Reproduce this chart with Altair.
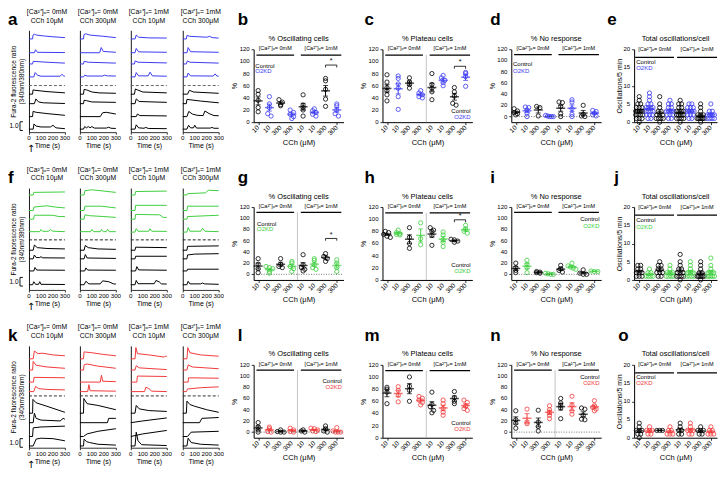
import altair as alt
import pandas as pd

FONT = "Liberation Sans"
BLUE, GREEN, RED = "#3b3bf4", "#3fcf3f", "#f23b3b"

# ---------------- text ----------------
COND_0 = "[Ca²⁺]ₒ= 0mM"
COND_1 = "[Ca²⁺]ₒ= 1mM"
TRACE_TITLES = [[COND_0, "CCh 10μM"], [COND_0, "CCh 300μM"],
                [COND_1, "CCh 10μM"], [COND_1, "CCh 300μM"]]
GROUP_HEADERS = [COND_0, COND_1]
X_LABELS = ["10", "10", "300", "300", "10", "10", "300", "300"]
TIME_TICKS = [0, 100, 200, 300]
PCT_TICKS = [0, 20, 40, 60, 80, 100, 120]
OSC_TICKS = [0, 5, 10, 15, 20]
LEGEND_LABELS = ["Control", "O2KD"]
SCALE_BAR = [0.0, 1.0]
SCALE_LABEL = "1.0"

# ---------------- traces (time s, ratio change) ----------------
# order: 4 knock-down traces (top), 4 control traces (bottom)
A1 = [
    [(0, 0), (30, 0), (34, .45), (45, .55), (60, .45), (120, .35), (200, .25), (300, .15)],
    [(0, 0), (45, 0), (55, .35), (70, .05), (300, .02)],
    [(0, 0), (30, 0), (35, .3), (60, .28), (150, .2), (300, .1)],
    [(0, 0), (40, 0), (52, .5), (70, .2), (100, .08), (260, .08), (275, .3), (290, .1), (300, .08)],
    [(0, 0), (30, 0), (34, .5), (50, .45), (150, .3), (300, .15)],
    [(0, 0), (45, 0), (58, .55), (80, .2), (120, .1), (300, .02)],
    [(0, 0), (30, 0), (34, .6), (60, .5), (150, .35), (300, .15)],
    [(0, 0), (35, 0), (42, .6), (60, .35), (100, .25), (180, .25), (200, .45), (225, .15), (300, .05)],
]
A2 = [
    [(0, 0), (30, 0), (34, .5), (50, .6), (80, .45), (200, .3), (300, .15)],
    [(0, 0), (165, 0), (178, .6), (195, .15), (300, .05)],
    [(0, 0), (30, 0), (35, .3), (70, .2), (300, .1)],
    [(0, 0), (30, 0), (40, .2), (60, .1), (190, .1), (205, .2), (230, .12), (300, .1)],
    [(0, 0), (30, 0), (35, .55), (55, .5), (100, .25), (160, .15), (300, .1)],
    [(0, 0), (30, 0), (35, .4), (55, .35), (100, .2), (300, .15)],
    [(0, 0), (170, 0), (190, .45), (220, .5), (260, .4), (300, .3)],
    [(0, 0), (30, 0), (40, .3), (55, .15), (70, .3), (85, .15), (100, .3), (120, .12), (220, .12), (240, .22), (260, .1), (300, .08)],
]
A3 = [
    [(0, 0), (35, 0), (45, .45), (65, .2), (150, .12), (300, .1)],
    [(0, 0), (35, 0), (45, .5), (65, .1), (300, .05)],
    [(0, 0), (30, 0), (36, .35), (60, .2), (300, .12)],
    [(0, 0), (35, 0), (45, .5), (65, .12), (145, .12), (160, .55), (180, .12), (300, .08)],
    [(0, 0), (30, 0), (38, .6), (55, .5), (100, .25), (300, .15)],
    [(0, 0), (35, 0), (45, .55), (70, .25), (300, .15)],
    [(0, 0), (45, 0), (55, .3), (75, .12), (300, .08)],
    [(0, 0), (35, 0), (45, .5), (65, .15), (110, .1), (125, .2), (145, .08), (300, .05)],
]
A4 = [
    [(0, 0), (30, 0), (35, .4), (60, .3), (200, .2), (225, .3), (245, .15), (300, .1)],
    [(0, 0), (35, 0), (45, .6), (65, .12), (300, .05)],
    [(0, 0), (30, 0), (38, .35), (60, .2), (300, .1)],
    [(0, 0), (35, 0), (45, .45), (65, .12), (255, .1), (270, .35), (285, .1), (300, .08)],
    [(0, 0), (40, 0), (55, .45), (90, .25), (300, .1)],
    [(0, 0), (30, 0), (35, .5), (60, .45), (150, .3), (300, .1)],
    [(0, 0), (35, 0), (50, .6), (80, .3), (120, .15), (170, .12), (185, .65), (220, .35), (260, .12), (300, .1)],
    [(0, 0), (35, 0), (48, .45), (65, .15), (90, .15), (100, .45), (115, .12), (230, .12), (245, .2), (260, .1), (300, .1)],
]
F1 = [
    [(0, 0), (35, 0), (40, .3), (150, .32), (300, .35)],
    [(0, 0), (35, 0), (42, .4), (150, .55), (220, .4), (300, .3)],
    [(0, 0), (38, 0), (45, .45), (200, .45), (250, .3), (300, .3)],
    [(0, .05), (90, .05), (100, .3), (115, .08), (165, .1), (180, .3), (200, .1), (300, .05)],
    [(0, 0), (35, 0), (45, .6), (70, .3), (150, .2), (300, .15)],
    [(0, 0), (35, 0), (45, .45), (60, .15), (90, .15), (100, .25), (115, .12), (300, .1)],
    [(0, 0), (40, 0), (50, .4), (65, .1), (300, .08)],
    [(0, 0), (30, 0), (40, .35), (55, .05), (80, .05), (90, .35), (100, .05), (300, .03)],
]
F2 = [
    [(0, 0), (35, 0), (42, .5), (100, .6), (200, .45), (300, .3)],
    [(0, 0), (35, 0), (42, .5), (180, .5), (300, .3)],
    [(0, 0), (35, 0), (42, .5), (80, .4), (200, .3), (300, .2)],
    [(0, .05), (90, .05), (100, .3), (115, .05), (170, .05), (180, .3), (195, .05), (220, .05), (230, .3), (245, .05), (300, .05)],
    [(0, 0), (35, 0), (45, .55), (70, .3), (150, .15), (300, .1)],
    [(0, 0), (35, 0), (45, .5), (60, .1), (300, .05)],
    [(0, 0), (40, 0), (50, .35), (65, .1), (300, .08)],
    [(0, 0), (35, 0), (50, .4), (75, .1), (170, .1), (190, .45), (240, .35), (280, .1), (300, .08)],
]
F3 = [
    [(0, 0), (35, 0), (40, .4), (300, .45)],
    [(0, 0), (35, 0), (40, .6), (300, .6)],
    [(0, 0), (35, 0), (40, .55), (240, .5), (270, .2), (300, .2)],
    [(0, 0), (35, 0), (45, .4), (60, .1), (150, .1), (160, .4), (175, .1), (300, .08)],
    [(0, 0), (35, 0), (40, .35), (300, .3)],
    [(0, 0), (35, 0), (40, .3), (300, .3)],
    [(0, 0), (40, 0), (50, .5), (65, .12), (300, .08)],
    [(0, 0), (35, 0), (45, .5), (60, .12), (195, .12), (210, .5), (240, .3), (255, .1), (300, .08)],
]
F4 = [
    [(0, 0), (35, 0), (40, .15), (190, .25), (215, .55), (300, .5)],
    [(0, 0), (35, 0), (40, .5), (300, .5)],
    [(0, 0), (35, 0), (40, .3), (300, .45)],
    [(0, 0), (35, 0), (45, .55), (60, .1), (150, .1), (165, .45), (185, .1), (300, .05)],
    [(0, 0), (35, 0), (40, .45), (300, .5)],
    [(0, 0), (35, 0), (40, .45), (100, .55), (300, .6)],
    [(0, 0), (35, 0), (40, .2), (300, .2)],
    [(0, 0), (35, 0), (45, .4), (60, .1), (150, .1), (165, .2), (180, .1), (300, .05)],
]
K1 = [
    [(0, 0), (35, 0), (45, .9), (75, .6), (110, .65), (200, .45), (300, .35)],
    [(0, 0), (30, 0), (35, 1.0), (60, .55), (150, .35), (300, .2)],
    [(0, 0), (38, 0), (42, .55), (300, .5)],
    [(0, 0), (40, 0), (55, .6), (80, .35), (150, .25), (300, .2)],
    [(0, 0), (30, 0), (33, 1.6), (60, 1.2), (150, .8), (300, .1)],
    [(0, 0), (35, 0), (45, 1.1), (60, .5), (100, .3), (260, .2), (285, .5), (300, .4)],
    [(0, 0), (30, 0), (35, 1.0), (100, 1.1), (300, 1.2)],
    [(0, 0), (35, 0), (60, .8), (100, .9), (200, .85), (300, .6)],
]
K2 = [
    [(0, 0), (30, 0), (35, .8), (100, .7), (200, .5), (300, .35)],
    [(0, 0), (30, 0), (35, .6), (60, .7), (150, .45), (300, .2)],
    [(0, 0), (170, 0), (180, .8), (190, .1), (300, .05)],
    [(0, 0), (65, 0), (75, .8), (85, .1), (300, .05)],
    [(0, 0), (30, 0), (33, 1.7), (60, 1.1), (150, .9), (300, .4)],
    [(0, 0), (230, 0), (240, .5), (300, .5)],
    [(0, 0), (30, 0), (60, .3), (150, .6), (300, .9)],
    [(0, 0), (30, 0), (35, .8), (55, .5), (80, .4), (150, .2), (300, .1)],
]
K3 = [
    [(0, 0), (35, 0), (42, 1.3), (55, .6), (150, .45), (280, .2), (290, .35), (300, .2)],
    [(0, 0), (35, 0), (45, .5), (70, .25), (300, .05)],
    [(0, 0), (50, 0), (55, .7), (300, .65)],
    [(0, 0), (115, 0), (125, .5), (150, .35), (175, .05), (300, 0)],
    [(0, 0), (35, 0), (45, .9), (70, .5), (150, .3), (300, .2)],
    [(0, 0), (100, .2), (300, .55)],
    [(0, 0), (100, .3), (300, .7)],
    [(0, 0), (35, 0), (45, 1.6), (60, .6), (90, .15), (300, .05)],
]
K4 = [
    [(0, 0), (35, 0), (42, 1.3), (60, .7), (150, .45), (300, .3)],
    [(0, 0), (35, 0), (45, .6), (80, .35), (300, .15)],
    [(0, 0), (45, 0), (48, .5), (300, .45)],
    [(0, 0), (30, 0), (40, .3), (150, .45), (300, .55)],
    [(0, 0), (30, 0), (35, 1.4), (60, 1.0), (100, .8), (200, .4), (300, .1)],
    [(0, 0), (140, 0), (160, .5), (300, .6)],
    [(0, 0), (40, 0), (70, .5), (300, .6)],
    [(0, 0), (35, 0), (45, .9), (70, .4), (150, .2), (300, .1)],
]

# ---------------- scatter values (8 groups: ctrl/KD alternating) ----------------
B_VALS = [[52, 46, 36, 24, 17], [42, 30, 24, 14, 10], [37, 33, 29, 27], [20, 16, 13, 9, 6],
          [45, 28, 24, 20, 10], [22, 19, 16, 13, 10], [72, 68, 54, 38, 26], [30, 27, 20, 14, 10]]
C_VALS = [[78, 66, 57, 52, 45, 35], [76, 72, 63, 56, 42, 21], [73, 66, 62, 56], [52, 48, 45, 42, 40],
          [80, 62, 56, 50, 37], [77, 73, 69, 65, 60], [57, 50, 43, 31, 28], [82, 80, 75, 59]]
D_VALS = [[14, 10, 7, 5, 3], [17, 16, 12, 6, 0], [18, 16, 1], [2, 1, 0, 0, 0],
          [26, 25, 18, 5, 0], [30, 26, 14, 4, 0], [20, 4, 1, 0], [11, 9, 6, 3, 1]]
E_VALS = [[0, 1, 1, 1, 2, 2, 2, 2, 3, 3, 3, 3, 3, 4, 4, 4, 5, 5, 6, 7],
          [1, 1, 2, 2, 2, 3, 3, 3, 3, 4, 4, 4, 4, 5, 5, 6, 7, 8],
          [0, 1, 1, 1, 1, 2, 2, 2, 3, 3, 4, 5, 7],
          [1, 1, 2, 2, 2, 3, 3, 3, 3, 4, 4, 5, 5, 6],
          [0, 1, 1, 1, 1, 2, 2, 2, 2, 2, 3, 3, 3, 3, 4, 4, 5, 5, 6],
          [1, 1, 2, 2, 2, 3, 3, 3, 3, 4, 4, 4, 5, 5],
          [0, 1, 1, 1, 1, 1, 1, 2, 2, 2, 3, 4, 5],
          [1, 1, 1, 1, 2, 2, 2, 2, 3, 3, 5]]
G_VALS = [[28, 18, 10, 3], [14, 12, 10, 5, 2], [28, 18, 14, 12], [23, 20, 14, 10, 5],
          [35, 17, 12, 9, 6], [28, 25, 17, 12, 9], [37, 32, 28, 23], [26, 20, 12, 5]]
H_VALS = [[80, 78, 75, 72, 70], [82, 78, 76, 75, 74], [86, 70, 60, 52], [94, 68, 58],
          [86, 82, 80, 73, 57], [79, 74, 66, 62, 55], [67, 66, 64, 62], [90, 84, 80, 77]]
I_VALS = [[20, 12, 7, 3], [25, 18, 12, 3], [5, 4, 3, 2], [2, 1, 0, 0],
          [16, 10, 7, 4], [20, 15, 13, 11, 9], [8, 2, 0, 0], [6, 5, 5]]
J_VALS = [[1, 1, 1, 2, 2, 2, 3, 3, 4, 4], [1, 1, 1, 1, 2, 2, 3], [1, 1, 2, 2, 2, 3, 3, 4, 4, 5],
          [1, 1, 1, 1, 2, 2, 2, 3, 4], [0, 1, 1, 1, 1, 2, 2, 2, 3, 3, 4, 5, 7],
          [1, 1, 1, 1, 2, 2, 2, 3, 4, 5], [0, 1, 1, 1, 1, 1, 1, 2, 2, 3, 4, 5],
          [1, 1, 1, 1, 1, 2, 2, 2, 3, 4, 6]]
L_VALS = [[17, 9, 4, 0], [9, 6, 1, 0], [4, 1, 0, 0], [7, 4, 1, 0],
          [4, 2, 0], [7, 6, 4, 2, 1], [11, 6, 2, 0], [8, 2, 0, 0, 0]]
M_VALS = [[83, 80, 75, 56], [84, 78, 70, 59], [100, 85, 78, 60], [68, 65, 62, 58, 54],
          [75, 55, 51, 45, 41], [62, 56, 48, 42, 37], [76, 66, 60, 56], [62, 58, 52, 48, 45]]
N_VALS = [[38, 22, 16, 7], [41, 18, 15], [39, 18, 10, 2], [47, 40, 35, 30, 24],
          [60, 52, 48, 43, 24], [64, 48, 38, 32], [43, 41, 30, 23, 22], [56, 47, 44, 41, 38]]
O_VALS = [[0, 1, 1, 2, 2, 2, 3, 4], [1, 1, 2, 2, 2, 3], [2, 2, 2], [1, 1, 1, 2, 2, 3],
          [1, 1, 2, 2, 3, 4], [1, 1, 2, 2, 2, 3, 4], [1, 1, 2, 2, 2, 3], [1, 1, 1, 2, 2, 3]]

# ---------------- layout ----------------
TW, TH = 36, 102          # trace sub-panel plot size
SW, EW = 90, 83           # scatter panel widths
S_TOP, S_BOT = 19, 92     # scatter axis extent inside the row cell
T_YMAX = 11.8
ROW_OFFSETS = {
    "a": ([10.8, 9.2, 7.9, 6.4, 4.4, 3.3, 1.8, 0.35], 5.4, "#666666"),
    "f": ([11.0, 9.2, 8.2, 6.7, 4.6, 3.6, 2.2, 0.6], 5.8, "#222222"),
    "k": ([10.3, 9.0, 7.6, 6.5, 4.0, 2.9, 1.3, 0.2], 6.0, "#333333"),
}
ONE = pd.DataFrame({"k": [0]})


def label(text, x, y, size, **kw):
    return alt.Chart(ONE).mark_text(fontSize=size, color="black", **kw).encode(
        x=alt.value(x), y=alt.value(y), text=alt.value(text))


def trace_panel(traces, offs, dash_y, dash_col, color, title_lines, first=False, letter=""):
    rows = []
    for i, tr in enumerate(traces):
        for t, v in tr:
            rows.append({"trace": i, "t": t, "y": offs[i] + v, "grp": "ko" if i < 4 else "ctrl"})
    df = pd.DataFrame(rows)
    xax = alt.Axis(values=TIME_TICKS, labels=False, title="Time (s)", titleFontSize=7,
                   tickSize=2, titlePadding=7, domainWidth=0.8, tickWidth=0.8)
    if first:
        yax = alt.Axis(labels=False, ticks=False, domainWidth=0.9,
                       title=["Fura-2 fluorescence ratio", "(340nm/380nm)"],
                       titleFontSize=6.5, titlePadding=4, titleLineHeight=8)
    else:
        yax = alt.Axis(labels=False, ticks=False, domainWidth=0.9, title="")
    cscale = alt.Scale(domain=["ko", "ctrl"], range=[color, "black"])
    lines = alt.Chart(df).mark_line(strokeWidth=1.0).encode(
        x=alt.X("t:Q", scale=alt.Scale(domain=[0, 300], nice=False), axis=xax),
        y=alt.Y("y:Q", scale=alt.Scale(domain=[0, T_YMAX], nice=False, zero=False), axis=yax),
        detail="trace:N",
        color=alt.Color("grp:N", scale=cscale, legend=None),
    )
    dash = alt.Chart(pd.DataFrame({"t": [0], "t2": [300], "y": [dash_y]})).mark_rule(
        strokeDash=[3, 2], strokeWidth=1.0, color=dash_col).encode(x="t:Q", x2="t2:Q", y="y:Q")
    ticklab = alt.Chart(pd.DataFrame({"t": TIME_TICKS, "s": [str(v) for v in TIME_TICKS]})).mark_text(
        fontSize=6.2, baseline="top", color="black").encode(
        x="t:Q", y=alt.value(TH + 3), text="s:N")
    layers = [lines, dash, ticklab,
              label(title_lines[0], TW / 2, -18.5, 6.8),
              label(title_lines[1], TW / 2, -9.8, 6.8)]
    if first:
        lo, hi = offs[-1] - 0.15 + SCALE_BAR[0], offs[-1] - 0.15 + SCALE_BAR[1]
        bar = alt.Chart(pd.DataFrame({"y": [lo], "y2": [hi]})).mark_rule(
            strokeWidth=0.9, color="black").encode(x=alt.value(-9), y="y:Q", y2="y2:Q")
        caps = alt.Chart(pd.DataFrame({"y": [lo, hi]})).mark_rule(
            strokeWidth=0.9, color="black").encode(x=alt.value(-9), x2=alt.value(-6), y="y:Q")
        lab = alt.Chart(pd.DataFrame({"y": [(lo + hi) / 2], "s": [SCALE_LABEL]})).mark_text(
            fontSize=6.5, align="right", baseline="middle", color="black").encode(
            x=alt.value(-10.5), y="y:Q", text="s:N")
        layers += [bar, caps, lab,
                   label(letter, -21, -10, 17, fontWeight="bold", align="left"),
                   label("↑", 2, TH + 22, 10, baseline="bottom", font="DejaVu Sans")]
    return alt.layer(*layers).properties(width=TW, height=TH)


def spread(vals, binw, step):
    keys = [round(v / binw) for v in vals]
    counts = {k: keys.count(k) for k in keys}
    seen, offs = {}, []
    for k in keys:
        j = seen.get(k, 0)
        seen[k] = j + 1
        m = counts[k]
        st = min(step, 0.7 / (m - 1)) if m > 1 else 0
        offs.append((j - (m - 1) / 2) * st)
    return offs


def scatter_panel(vals, color, title, letter, letter_dx, kind, legend, sig=None, sep=False):
    if kind == "osc":
        ydom, ticks, ytitle, hdr_y, hdr_ty = [0, 20], OSC_TICKS, "Oscillations/5 min", 17.8, 19.3
        xdom, width, binw, step, hdr_x = [0.5, 8.6], EW, 1, 0.28, [(0.6, 4.4), (4.7, 8.6)]
        tick_d, ytp = 0.6, 9
    else:
        ydom = [0, 120] if kind == "pct0" else [-10, 120]
        ticks, ytitle, hdr_y, hdr_ty = PCT_TICKS, "%", 110.5, 117
        xdom, width, binw, step, hdr_x = [0.6, 8.6], SW, 6, 0.3, [(0.85, 4.2), (4.8, 8.4)]
        tick_d, ytp = 4, 13
    rows = []
    for g, vs in enumerate(vals):
        for v, o in zip(vs, spread(vs, binw, step)):
            rows.append({"gx": g + 1, "x": g + 1 + o, "val": v, "grp": "ctrl" if g % 2 == 0 else "ko"})
    df = pd.DataFrame(rows)
    cscale = alt.Scale(domain=["ctrl", "ko"], range=["black", color])
    xscale = alt.Scale(domain=xdom, nice=False, zero=False)
    yscale = alt.Scale(domain=ydom, range=[S_BOT, S_TOP], nice=False, zero=False)
    xax = alt.Axis(values=list(range(1, 9)), labels=False, tickSize=2.5, tickWidth=0.8,
                   title="CCh (μM)", titleFontSize=7.5, titlePadding=13,
                   offset=-(TH - S_BOT), domainWidth=1)
    yax = alt.Axis(values=ticks, labels=False, tickSize=2.5, tickWidth=0.8,
                   title=ytitle, titleFontSize=7, titlePadding=ytp, domainWidth=1)
    col = alt.Color("grp:N", scale=cscale, legend=None)
    pts = alt.Chart(df).mark_point(filled=False, size=18, strokeWidth=0.8, opacity=1).encode(
        x=alt.X("x:Q", scale=xscale, axis=xax),
        y=alt.Y("val:Q", scale=yscale, axis=yax),
        color=col)
    stats = alt.Chart(df).transform_aggregate(
        m="mean(val)", se="stderr(val)", groupby=["gx", "grp"]).transform_calculate(
        lo="datum.m - datum.se", hi="datum.m + datum.se")
    err = stats.mark_rule(strokeWidth=1.0).encode(x="gx:Q", y="lo:Q", y2="hi:Q", color=col)
    cap_hi = stats.mark_tick(orient="horizontal", size=5, thickness=1).encode(x="gx:Q", y="hi:Q", color=col)
    cap_lo = stats.mark_tick(orient="horizontal", size=5, thickness=1).encode(x="gx:Q", y="lo:Q", color=col)
    mean = stats.mark_tick(orient="horizontal", size=9, thickness=1.5).encode(x="gx:Q", y="m:Q", color=col)

    xlab = alt.Chart(pd.DataFrame({"x": list(range(1, 9)), "s": X_LABELS})).mark_text(
        fontSize=6.5, angle=315, align="right", baseline="middle", color="black").encode(
        x="x:Q", y=alt.value(S_BOT + 4.5), text="s:N")
    ylab = alt.Chart(pd.DataFrame({"v": ticks, "s": [str(v) for v in ticks]})).mark_text(
        fontSize=6, align="right", baseline="middle", color="black").encode(
        x=alt.value(-4), y="v:Q", text="s:N")

    hdr = pd.DataFrame({"x1": [h[0] for h in hdr_x], "x2": [h[1] for h in hdr_x],
                        "xm": [(h[0] + h[1]) / 2 for h in hdr_x],
                        "y": [hdr_y, hdr_y], "ty": [hdr_ty, hdr_ty], "s": GROUP_HEADERS})
    hline = alt.Chart(hdr).mark_rule(strokeWidth=1.2, color="black").encode(x="x1:Q", x2="x2:Q", y="y:Q")
    htext = alt.Chart(hdr).mark_text(fontSize=5.5, baseline="bottom", color="black").encode(
        x="xm:Q", y="ty:Q", text="s:N")
    lx, ly1, ly2, la = legend
    leg = alt.Chart(pd.DataFrame({"x": [lx, lx], "y": [ly1, ly2], "s": LEGEND_LABELS,
                                  "grp": ["ctrl", "ko"]})).mark_text(
        fontSize=6, align=la, baseline="middle").encode(x="x:Q", y="y:Q", text="s:N", color=col)
    layers = [pts, err, cap_hi, cap_lo, mean, xlab, ylab, hline, htext, leg,
              label(letter, letter_dx, -10, 17, fontWeight="bold", align="left"),
              label(title, width / 2, 8.5, 7.5)]
    if sep:
        layers.append(alt.Chart(pd.DataFrame({"x": [4.5], "y": [ydom[0]], "y2": [hdr_y]})).mark_rule(
            strokeWidth=0.7, color="#aaaaaa").encode(x="x:Q", y="y:Q", y2="y2:Q"))
    if kind == "pctz":
        layers.append(alt.Chart(pd.DataFrame({"x": [xdom[0]], "x2": [xdom[1]], "y": [0]})).mark_rule(
            strokeWidth=0.8, strokeDash=[1, 1.5], color="#555555").encode(x="x:Q", x2="x2:Q", y="y:Q"))
    if sig is not None:
        ys, yst = sig
        layers.append(alt.Chart(pd.DataFrame({"x": [7], "x2": [8], "y": [ys]})).mark_rule(
            strokeWidth=0.8, color="black").encode(x="x:Q", x2="x2:Q", y="y:Q"))
        layers.append(alt.Chart(pd.DataFrame({"x": [7, 8], "y": [ys - tick_d] * 2, "y2": [ys] * 2})).mark_rule(
            strokeWidth=0.8, color="black").encode(x="x:Q", y="y:Q", y2="y2:Q"))
        layers.append(alt.Chart(pd.DataFrame({"x": [7.5], "y": [yst], "s": ["*"]})).mark_text(
            fontSize=7, baseline="middle", color="black").encode(x="x:Q", y="y:Q", text="s:N"))
    return alt.layer(*layers).properties(width=width, height=TH)


def spacer(w):
    return alt.Chart(ONE).mark_point(opacity=0).encode(
        x=alt.value(0), y=alt.value(0)).properties(width=w, height=10)


def row(key, traces, color, scat):
    offs, dy, dcol = ROW_OFFSETS[key]
    t = [trace_panel(traces[i], offs, dy, dcol, color, TRACE_TITLES[i], first=(i == 0), letter=key)
         for i in range(4)]
    return [t[0], spacer(15), t[1], spacer(15), t[2], spacer(16), t[3], spacer(35),
            scat[0], spacer(39), scat[1], spacer(39), scat[2], spacer(33), scat[3]]


T_OSC, T_PLAT, T_NO, T_TOT = "% Oscillating cells", "% Plateau cells", "% No response", "Total oscillations/cell"

row1 = row("a", [A1, A2, A3, A4], BLUE, [
    scatter_panel(B_VALS, BLUE, T_OSC, "b", -16, "pct0", (0.75, 93, 84, "left"), sig=(94, 100)),
    scatter_panel(C_VALS, BLUE, T_PLAT, "c", -18, "pct0", (8.45, 19, 9, "right"), sig=(92, 99), sep=True),
    scatter_panel(D_VALS, BLUE, T_NO, "d", -21, "pctz", (0.75, 93, 82, "left")),
    scatter_panel(E_VALS, BLUE, T_TOT, "e", -27, "osc", (0.7, 16.4, 14.9, "left")),
])
row2 = row("f", [F1, F2, F3, F4], GREEN, [
    scatter_panel(G_VALS, GREEN, T_OSC, "g", -16, "pctz", (0.9, 90, 80, "left"), sig=(64, 71), sep=True),
    scatter_panel(H_VALS, GREEN, T_PLAT, "h", -18, "pct0", (8.45, 25, 15, "right"), sig=(99, 105), sep=True),
    scatter_panel(I_VALS, GREEN, T_NO, "i", -21, "pctz", (8.45, 98, 87, "right")),
    scatter_panel(J_VALS, GREEN, T_TOT, "j", -20, "osc", (0.7, 16.4, 14.6, "left")),
])
row3 = row("k", [K1, K2, K3, K4], RED, [
    scatter_panel(L_VALS, RED, T_OSC, "l", -16, "pctz", (8.45, 91, 80, "right"), sep=True),
    scatter_panel(M_VALS, RED, T_PLAT, "m", -18, "pct0", (8.45, 24, 14, "right"), sep=True),
    scatter_panel(N_VALS, RED, T_NO, "n", -21, "pctz", (8.45, 99, 88, "right"), sep=True),
    scatter_panel(O_VALS, RED, T_TOT, "o", -16, "osc", (0.7, 16.7, 15.1, "left")),
])

chart = alt.concat(*(row1 + row2 + row3), columns=15, bounds="flush", align="each",
                   spacing={"row": 56, "column": 0}).resolve_scale(
    color="independent"
).properties(
    padding={"left": 0, "top": 0, "right": 0, "bottom": 0}
).configure(font=FONT).configure_view(strokeWidth=0).configure_axis(
    grid=False, domainColor="black", tickColor="black", labelColor="black",
    titleColor="black", titleFontWeight="normal", labelFont=FONT, titleFont=FONT
).configure_title(color="black", font=FONT)

chart.save("out.html", embed_options={"renderer": "svg", "actions": False})
